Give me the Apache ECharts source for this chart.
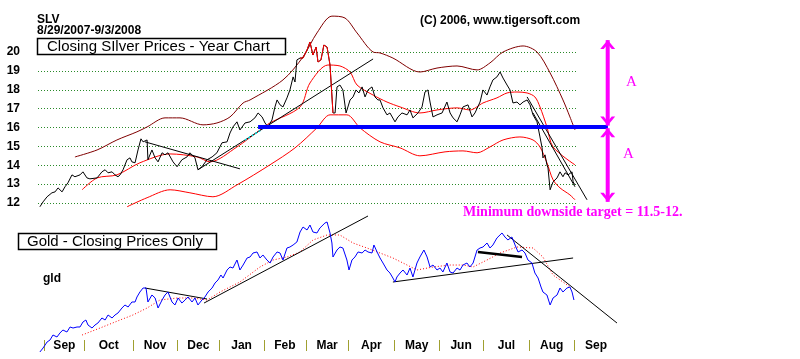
<!DOCTYPE html>
<html><head><meta charset="utf-8">
<script src="https://cdn.jsdelivr.net/npm/echarts/dist/echarts.min.js"></script>
<style>html,body{margin:0;padding:0;background:#fff}#c{width:800px;height:359px}</style>
</head><body><div id="c"></div>
<script>
// x = trading-day index from 8/29/2007 (0) to 9/3/2008 (255)
const silverPrice = [[0.9,11.80],[2.4,12.06],[4.3,12.33],[6.6,12.54],[8.1,12.59],[9.5,12.80],[11.4,12.59],[12.8,12.86],[14.2,13.07],[16.1,13.49],[17.5,13.39],[19.9,13.49],[21.3,13.65],[23.2,13.33],[24.6,13.28],[28.0,13.33],[30.3,13.65],[31.8,13.76],[33.2,13.60],[35.1,13.65],[36.5,13.49],[37.9,13.39],[38.9,13.49],[40.3,13.76],[42.2,14.29],[43.6,14.39],[44.5,14.18],[46.0,14.13],[47.4,14.81],[48.8,15.40],[49.8,15.24],[51.7,15.34],[52.1,14.29],[54.0,14.81],[55.5,14.39],[56.9,14.18],[58.8,14.66],[60.2,14.55],[61.6,14.66],[64.0,14.18],[65.9,13.92],[68.2,14.29],[70.6,14.44],[72.0,14.66],[74.4,14.39],[75.8,13.76],[77.7,13.92],[80.1,14.29],[82.5,14.44],[84.8,14.66],[87.2,15.19],[89.6,15.24],[91.0,15.71],[92.4,16.03],[94.3,16.30],[95.7,15.87],[98.1,16.24],[100.5,16.30],[102.8,16.51],[104.3,16.77],[106.2,16.56],[107.6,16.24],[109.0,16.03],[110.9,16.40],[112.3,17.09],[113.3,17.46],[114.7,17.20],[116.1,17.09],[118.0,17.57],[119.4,17.99],[120.9,18.68],[121.8,18.41],[122.7,19.58],[124.2,19.68],[125.6,19.68],[127.5,20.11],[128.9,20.53],[130.3,19.84],[131.8,20.26],[132.7,19.47],[134.1,19.58],[135.5,20.37],[137.0,20.26],[138.4,19.31],[139.8,16.77],[140.8,16.77],[141.7,18.15],[143.1,18.25],[144.5,17.99],[146.0,16.77],[146.9,16.67],[147.9,17.46],[149.3,17.62],[150.7,17.99],[152.1,17.83],[153.6,18.15],[155.0,17.62],[156.4,17.99],[158.3,18.15],[159.7,17.62],[161.1,17.46],[162.1,17.46],[163.5,17.04],[165.4,16.67],[166.8,16.77],[169.2,16.30],[170.6,16.56],[172.5,16.77],[174.9,16.67],[176.3,16.93],[177.7,16.51],[180.1,16.77],[182.0,17.09],[183.4,17.88],[184.8,17.99],[185.8,17.35],[187.2,16.56],[189.1,16.67],[191.5,16.77],[193.8,17.35],[195.3,16.77],[196.7,16.51],[198.6,16.30],[200.0,16.67],[201.4,17.09],[203.8,17.20],[205.7,16.56],[207.1,16.77],[209.5,17.35],[210.9,17.99],[212.8,17.72],[214.2,18.15],[215.6,18.52],[217.5,18.68],[219.0,18.94],[220.4,18.62],[222.3,18.25],[223.7,17.99],[225.1,17.30],[227.0,17.35],[228.4,17.20],[229.9,17.35],[231.8,17.46],[233.2,17.20],[234.6,16.67],[236.5,16.30],[237.9,15.50],[238.9,14.92],[239.3,14.39],[240.3,14.55],[241.2,14.02],[241.7,13.86],[242.7,12.70],[244.1,13.12],[246.0,13.33],[247.4,13.65],[248.8,13.39],[249.8,13.60],[251.2,13.49],[253.1,13.65],[253.6,13.12],[254.5,12.96]];
const silverRedRange = [124, 140];
const upperBand = [[17.5,14.44],[28.0,14.81],[37.4,15.34],[46.9,15.77],[51.7,16.03],[60.2,16.51],[67.3,16.51],[78.2,16.14],[84.8,16.24],[91.0,16.56],[97.2,17.30],[100.5,17.46],[116.1,18.52],[125.6,19.74],[132.2,21.01],[139.3,21.90],[145.5,21.80],[151.2,21.01],[158.8,20.00],[162.1,19.95],[168.2,19.68],[181.0,18.94],[189.1,19.15],[198.6,19.26],[208.1,19.05],[214.2,19.42],[220.4,20.00],[229.9,20.32],[236.5,20.00],[242.7,18.89],[248.8,17.46],[252.1,16.56],[254.5,15.87]];
const midBand = [[20.9,12.70],[28.0,13.33],[37.4,13.49],[48.3,14.13],[62.6,14.60],[75.4,14.44],[81.5,14.18],[94.3,14.97],[105.2,15.87],[109.9,16.24],[124.2,17.09],[128.9,18.36],[137.4,19.31],[143.1,19.26],[147.9,18.94],[151.2,18.25],[158.8,17.72],[165.4,17.35],[171.6,17.09],[181.0,16.77],[189.1,16.93],[198.6,17.04],[204.7,16.93],[210.9,17.30],[217.5,17.57],[222.3,17.83],[227.0,17.88],[231.8,17.83],[235.5,17.62],[237.9,17.09],[241.2,16.03],[244.1,14.97],[254.5,14.02]];
const lowerBand = [[42.2,11.80],[51.7,12.28],[62.6,12.70],[72.0,12.54],[82.9,12.33],[94.3,12.96],[109.9,14.02],[121.8,14.92],[132.2,15.98],[138.4,16.67],[146.4,16.67],[152.6,15.98],[162.1,15.24],[171.6,14.92],[181.0,14.50],[192.9,14.71],[201.4,14.76],[208.1,14.66],[214.2,14.97],[220.4,15.34],[228.4,15.50],[234.6,15.34],[237.9,14.97],[241.2,14.13],[244.1,13.23],[247.4,12.80],[252.1,12.43],[254.5,12.17]];
const silverTrends = [[[50.7,15.24],[95.7,13.81]],[[75.8,13.76],[158.8,19.63]],[[231.8,17.62],[260.2,12.17]],[[234.6,16.77],[254.5,12.86]]];
const cyanSegment = [[98.1,15.33],[106.2,15.90]];
const supportLine = [[104.3,16.03],[270.1,16.03]];
const arrowTop = [16.1, 20.63];
const arrowBottom = [15.96, 12.06];
const arrowX = 270;

const goldPrice = [[0.9,65.52],[2.4,66.53],[4.3,68.05],[5.7,68.56],[7.1,69.82],[9.0,69.32],[10.4,70.33],[11.8,71.09],[13.7,70.58],[15.2,71.85],[16.6,71.59],[18.5,71.85],[19.9,71.85],[21.3,73.11],[22.7,73.62],[23.7,72.35],[25.6,71.59],[27.0,72.35],[28.4,72.86],[30.3,74.13],[31.8,73.62],[33.2,74.89],[35.1,74.13],[36.5,74.89],[37.9,75.39],[39.8,76.66],[41.2,77.42],[42.7,76.91],[44.5,78.18],[46.0,78.18],[46.9,79.44],[48.3,80.71],[49.8,81.72],[51.2,81.72],[52.1,78.18],[54.0,79.95],[55.5,79.19],[56.9,76.66],[58.8,78.68],[60.2,79.95],[61.6,80.71],[63.5,78.18],[64.9,77.42],[66.4,79.19],[68.2,77.92],[69.7,78.68],[71.1,79.44],[73.0,78.18],[74.4,79.19],[75.8,77.42],[77.7,78.68],[79.1,79.44],[80.6,80.71],[82.5,81.72],[83.9,82.99],[85.3,83.75],[86.7,85.01],[87.7,84.25],[89.6,86.28],[91.0,87.04],[92.4,86.78],[94.3,88.81],[95.7,86.28],[97.2,87.54],[99.1,89.32],[100.5,89.57],[101.9,90.58],[103.8,90.84],[105.2,89.32],[106.6,90.08],[108.5,88.81],[110.0,88.05],[111.4,89.57],[113.3,90.84],[114.7,90.58],[116.1,88.81],[118.0,91.85],[119.4,92.10],[120.9,92.61],[122.7,93.37],[124.2,95.90],[125.6,97.16],[127.5,96.41],[128.9,97.67],[130.3,95.90],[132.2,95.65],[133.6,96.91],[136.0,98.18],[137.0,98.43],[138.4,95.65],[139.3,93.11],[139.8,89.57],[141.7,91.34],[143.1,92.10],[144.5,91.85],[146.4,88.81],[147.4,86.28],[148.8,88.81],[150.2,89.57],[151.7,90.84],[153.6,90.58],[155.0,91.34],[156.4,90.84],[158.3,90.58],[159.2,92.61],[160.7,90.84],[162.1,89.32],[163.5,88.05],[165.4,86.28],[166.8,85.52],[168.2,84.25],[169.2,83.24],[170.1,84.51],[171.6,85.52],[173.0,86.28],[174.9,85.01],[176.3,86.78],[177.7,84.51],[179.6,88.05],[181.0,89.57],[182.9,91.34],[184.4,89.57],[185.8,87.04],[187.2,87.54],[189.1,86.28],[190.5,86.78],[191.9,85.77],[193.8,88.05],[195.3,85.77],[196.7,85.52],[198.6,86.78],[200.0,86.28],[201.4,87.54],[203.3,88.05],[204.7,87.04],[206.2,88.05],[208.1,91.34],[209.5,91.85],[210.9,92.10],[212.8,93.11],[214.2,91.85],[215.6,92.61],[217.5,94.38],[219.9,95.65],[221.3,94.63],[222.7,93.87],[224.6,94.63],[226.1,92.61],[227.5,90.84],[229.4,91.34],[230.8,90.58],[232.2,88.81],[234.1,88.05],[235.5,85.52],[237.0,84.25],[238.4,81.97],[239.3,80.71],[241.2,79.95],[242.7,77.42],[244.1,79.19],[246.0,79.95],[247.4,81.72],[248.8,80.71],[250.7,81.72],[252.1,81.97],[253.1,80.71],[254.0,78.68]];
const goldMA = [[20.9,69.82],[29.4,71.59],[38.9,73.62],[45.0,74.89],[51.7,76.66],[57.8,78.68],[65.9,79.19],[73.5,79.19],[80.1,78.68],[86.3,80.71],[95.7,83.24],[105.2,87.04],[111.4,88.81],[118.0,89.57],[124.2,90.84],[130.3,93.87],[137.0,95.14],[143.1,95.14],[149.3,93.11],[155.9,91.85],[162.1,90.58],[168.2,89.32],[174.9,87.54],[179.6,86.28],[187.2,87.04],[195.3,87.54],[201.4,87.54],[206.2,87.04],[212.8,88.81],[219.0,90.58],[227.0,92.10],[234.6,91.85],[239.3,89.57],[244.1,85.01],[248.8,83.24],[252.1,81.97]];
const goldTrends = [[[50.7,81.72],[80.1,78.94]],[[78.7,77.92],[156.4,99.95]],[[168.2,83.24],[253.6,89.32]],[[222.3,95.14],[274.4,72.86]]];
const goldThickTrend = [[208.5,90.84],[229.4,89.57]];

const monthNames = ['Sep','Oct','Nov','Dec','Jan','Feb','Mar','Apr','May','Jun','Jul','Aug','Sep'];
const monthStarts = [3,22,45,66,86,107,127,147,169,190,211,233,254];
const silverTicks = [12,13,14,15,16,17,18,19,20];

const monthCenters = monthStarts.map((s,i)=> i<monthStarts.length-1 ? (s+monthStarts[i+1])/2 : s+10.5);

const SANS = "'Liberation Sans', Arial, sans-serif";
const SERIF = "'Liberation Serif', 'Times New Roman', serif";
const PX = 2.11; // px per trading day
const LEFT = 38;
const XMAX = 280;

function line(data, color, width, g, extra) {
  return Object.assign({
    type:'line', xAxisIndex:g, yAxisIndex:g, data:data, symbol:'none', showSymbol:false,
    clip:false, silent:true, animation:false,
    lineStyle:{color:color, width:width}, itemStyle:{color:color}, emphasis:{disabled:true}
  }, extra||{});
}

const chev = 'path://M0,9L7.5,0L15,9L11.5,9L7.5,4.2L3.5,9Z';
function arrow(y0, y1) {
  const up = y1 > y0;
  return line([
    {value:[arrowX,y0], symbol:chev, symbolRotate: up?180:0, symbolOffset:[0, up? -4.5: 4.5]},
    {value:[arrowX,y1], symbol:chev, symbolRotate: up?0:180, symbolOffset:[0, up? 4.5: -4.5]}
  ], '#ff00ff', 4, 1, {showSymbol:true, symbol:chev, symbolSize:[15,9], z:5});
}

const series = [];
series.push(line(upperBand, '#800000', 1, 1, {smooth:0.3}));
series.push(line(midBand, '#ff0000', 1, 1, {smooth:0.3}));
series.push(line(lowerBand, '#ff0000', 1, 1, {smooth:0.3}));
silverTrends.forEach(t => series.push(line(t, '#000', 1, 1)));
series.push(line(cyanSegment, '#00e0e0', 1.5, 1, {lineStyle:{color:'#00e0e0', width:1.5, type:[2,2]}}));
series.push(line(silverPrice, '#000', 1, 1));
series.push(line(silverPrice.filter(p=>p[0]>=silverRedRange[0] && p[0]<=silverRedRange[1]), '#ff0000', 1, 1));
series.push(line(supportLine, '#0000ff', 4, 1, {z:4}));
series.push(arrow(arrowTop[0], arrowTop[1]));
series.push(arrow(arrowBottom[0], arrowBottom[1]));

series.push(line(goldMA, '#ff0000', 1, 2, {lineStyle:{color:'#ff0000', width:1, type:[1,2]}}));
goldTrends.forEach(t => series.push(line(t, '#000', 1, 2)));
series.push(line(goldThickTrend, '#000', 2.5, 2));
series.push(line(goldPrice, '#0000ff', 1, 2));

const yS = {min:silverTicks[0], max:silverTicks[silverTicks.length-1]};
const option = {
  backgroundColor:'#fff',
  animation:false,
  grid:[
    {left:LEFT, top:52, width:255*PX, height:151},
    {left:LEFT, top:52, width:XMAX*PX, height:151},
    {left:LEFT, top:200, width:XMAX*PX, height:158},
    {left:LEFT, top:340, width:XMAX*PX, height:11}
  ],
  xAxis:[
    {gridIndex:0, type:'value', min:0, max:255, show:false},
    {gridIndex:1, type:'value', min:0, max:XMAX, show:false},
    {gridIndex:2, type:'value', min:0, max:XMAX, show:false},
    {gridIndex:3, type:'value', min:0, max:XMAX,
      axisLine:{show:false}, splitLine:{show:false},
      axisTick:{show:true, inside:true, length:11, customValues:monthStarts, lineStyle:{color:'#a0a030', width:1}},
      axisLabel:{show:true, inside:true, margin:5, verticalAlign:'middle', customValues:monthCenters,
        fontFamily:SANS, fontWeight:'bold', fontSize:12, color:'#000',
        formatter:function(v){ let b=0; monthCenters.forEach((c,i)=>{ if(Math.abs(c-v)<Math.abs(monthCenters[b]-v)) b=i; }); return monthNames[b]; }}
    }
  ],
  yAxis:[
    {gridIndex:0, type:'value', min:yS.min, max:yS.max, interval:1,
      axisLine:{show:false}, axisTick:{show:false},
      axisLabel:{margin:18, fontFamily:SANS, fontWeight:'bold', fontSize:12, color:'#000'},
      splitLine:{show:true, lineStyle:{color:'#2a8a2a', width:1, type:[1,2]}}},
    {gridIndex:1, type:'value', min:yS.min, max:yS.max, show:false, splitLine:{show:false}},
    {gridIndex:2, type:'value', min:64, max:104, show:false, splitLine:{show:false}},
    {gridIndex:3, type:'value', min:0, max:1, show:false}
  ],
  graphic:[
    {type:'text', x:37, y:20, style:{text:'SLV', font:'bold 12px '+SANS, fill:'#000', verticalAlign:'middle'}},
    {type:'text', x:37, y:31, style:{text:'8/29/2007-9/3/2008', font:'bold 12px '+SANS, fill:'#000', verticalAlign:'middle'}},
    {type:'rect', shape:{x:37.5, y:38.5, width:248, height:16}, style:{fill:'#fff', stroke:'#000', lineWidth:1.5}, z:10},
    {type:'text', x:47, y:47, z:11, style:{text:'Closing SIlver Prices - Year Chart', font:'15px '+SANS, fill:'#000', verticalAlign:'middle'}},
    {type:'text', x:420, y:21, style:{text:'(C) 2006, www.tigersoft.com', font:'bold 12px '+SANS, fill:'#000', verticalAlign:'middle'}},
    {type:'rect', shape:{x:18.5, y:233.5, width:198, height:16}, style:{fill:'#fff', stroke:'#000', lineWidth:1.5}, z:10},
    {type:'text', x:27, y:242, z:11, style:{text:'Gold - Closing Prices Only', font:'15px '+SANS, fill:'#000', verticalAlign:'middle'}},
    {type:'text', x:43, y:279, style:{text:'gld', font:'bold 12px '+SANS, fill:'#000', verticalAlign:'middle'}},
    {type:'text', x:626, y:82, style:{text:'A', font:'15px '+SERIF, fill:'#ff00ff', verticalAlign:'middle'}},
    {type:'text', x:623, y:154, style:{text:'A', font:'15px '+SERIF, fill:'#ff00ff', verticalAlign:'middle'}},
    {type:'text', x:463, y:212, style:{text:'Minimum downside target = 11.5-12.', font:'bold 14px '+SERIF, fill:'#ff00ff', verticalAlign:'middle'}}
  ],
  series:series
};
const chart = echarts.init(document.getElementById('c'), null, {renderer:'canvas'});
chart.setOption(option);
</script></body></html>
